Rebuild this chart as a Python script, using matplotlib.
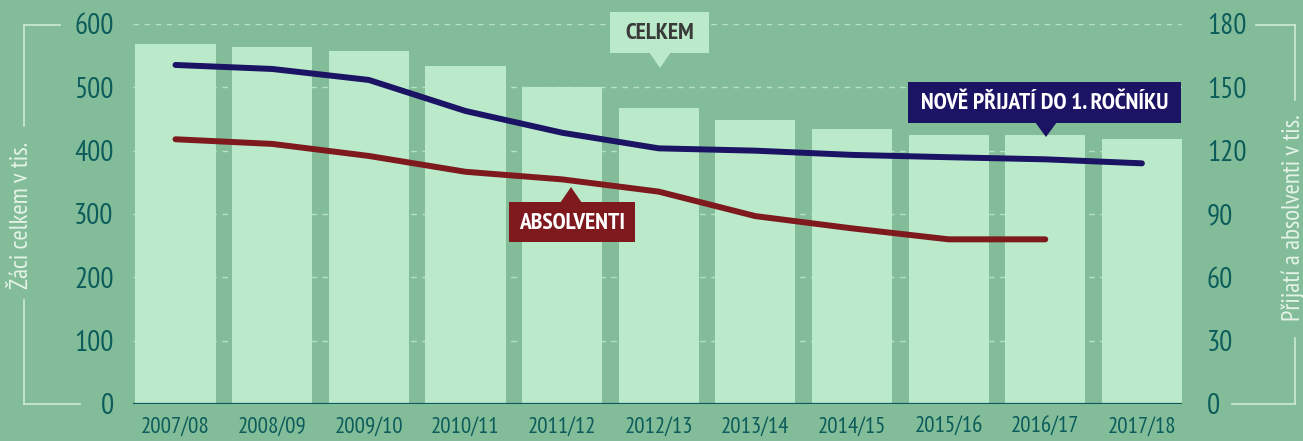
import matplotlib.pyplot as plt
from matplotlib.patches import Rectangle, Polygon
from matplotlib.lines import Line2D

# data
roky = ['2007/08', '2008/09', '2009/10', '2010/11', '2011/12', '2012/13',
        '2013/14', '2014/15', '2015/16', '2016/17', '2017/18']
celkem = [568, 563, 557, 534, 501, 468, 448, 434, 425, 425, 418]
prijati = [160.6, 158.7, 153.5, 138.8, 128.5, 121.1, 120.0, 118.0, 116.9, 115.9, 114.0]
absolventi = [125.4, 123.2, 117.5, 110.0, 106.4, 100.6, 89.0, 83.2, 78.0, 78.0]

bg = '#83bc98'
bar_c = '#baeaca'
teal = '#0b5c5b'
navy = '#1b1464'
red = '#7e1a1e'
light = '#e4f3e8'

plt.rcParams['font.family'] = ['PT Sans Narrow', 'Roboto Condensed', 'Liberation Sans', 'DejaVu Sans']

W, H = 1303, 441
fig = plt.figure(figsize=(W / 100, H / 100), dpi=100, facecolor=bg)


def px(x, y):
    return x / W, 1 - y / H


ax = fig.add_axes([133 / W, 37 / H, 1049 / W, 380 / H])
ax.set_facecolor(bg)
x = list(range(len(roky)))
ax.bar(x, celkem, width=0.83, color=bar_c, zorder=2)
ax.set_xlim(-0.44, 10.415)
ax.set_ylim(0, 600)
ax.set_yticks(range(0, 601, 100))
ax.set_xticks(x)
ax.set_xticklabels(roky)
ax.yaxis.grid(True, color='#b4e2c2', lw=1, linestyle=(0, (4, 4)), zorder=1)
ax.set_axisbelow(True)
ax.axhline(0, color=teal, lw=1.6, zorder=3)
for s in ax.spines.values():
    s.set_visible(False)
ax.tick_params(axis='y', length=0, pad=14, labelsize=21, labelcolor=teal)
ax.tick_params(axis='x', length=0, pad=9.5, labelsize=16.5, labelcolor=teal)

ax2 = ax.twinx()
ax2.set_ylim(0, 180)
ax2.set_yticks(range(0, 181, 30))
for s in ax2.spines.values():
    s.set_visible(False)
ax2.tick_params(axis='y', length=0, pad=18, labelsize=21, labelcolor=teal)
ax2.plot(x, prijati, color=navy, lw=4.3, solid_capstyle='round', solid_joinstyle='round', zorder=5)
ax2.plot(x[:len(absolventi)], absolventi, color=red, lw=4.3, solid_capstyle='round', solid_joinstyle='round', zorder=5)


def callout(x0, y0, x1, y1, tip, text, fc, tc, size):
    bx, by = px(x0, y1)
    bx2, by2 = px(x1, y0)
    fig.patches.append(Rectangle((bx, by), bx2 - bx, by2 - by, transform=fig.transFigure,
                                 facecolor=fc, edgecolor='none', zorder=6))
    tx, ty = tip
    if ty > y1:
        base = y1 - 1
    else:
        base = y0 + 1
    tri = [px(tx - 11, base), px(tx + 11, base), px(tx, ty)]
    fig.patches.append(Polygon(tri, closed=True, transform=fig.transFigure,
                               facecolor=fc, edgecolor='none', zorder=6))
    cx, cy = px((x0 + x1) / 2, (y0 + y1) / 2 + 1)
    fig.text(cx, cy, text, ha='center', va='center', color=tc, fontsize=size,
             fontweight='bold', zorder=7)


callout(610, 12, 709, 53, (660, 68), 'CELKEM', bar_c, '#3a3a3a', 17)
callout(509, 202, 635, 242, (571, 187), 'ABSOLVENTI', red, 'white', 17)
callout(908, 82, 1181, 123, (1046, 137), 'NOVĚ PŘIJATÍ DO 1. ROČNÍKU', navy, 'white', 17)

# brackets around axis titles
segs = [
    [(24, 25), (24, 126)], [(24, 300), (24, 404)], [(24, 25), (60, 25)], [(24, 404), (80, 404)],
    [(1295, 25), (1295, 100)], [(1295, 338), (1295, 404)], [(1256, 25), (1295, 25)], [(1232, 404), (1295, 404)],
]
for a, b in segs:
    p1, p2 = px(*a), px(*b)
    fig.lines.append(Line2D([p1[0], p2[0]], [p1[1], p2[1]], transform=fig.transFigure,
                            color='#cfe9d6', lw=1.2))

fig.text(*px(22, 215), 'Žáci celkem v tis.', rotation=90, ha='center', va='center',
         color=light, fontsize=18)
fig.text(*px(1293, 218), 'Přijatí a absolventi v tis.', rotation=90, ha='center', va='center',
         color=light, fontsize=18)

plt.savefig('out.png', dpi=100, facecolor=bg)
